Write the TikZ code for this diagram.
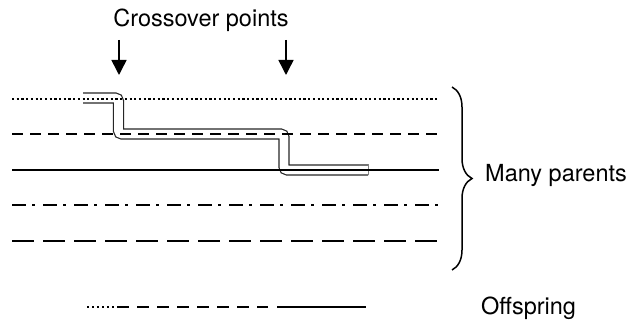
\documentclass[tikz,border=0pt]{standalone}
\usepackage{fontspec}
\setmainfont{TeX Gyre Heros}
\usetikzlibrary{calc, positioning}
\usetikzlibrary{arrows.meta}
\usetikzlibrary{decorations.pathreplacing}

\begin{document}
\begin{tikzpicture}[x=1pt, y=-1pt,
    font=\fontsize{23.5}{28}\selectfont,
    label/.style={inner sep=0pt},
    parent/.style={line width=2.7pt},
    pointer/.style={line width=1.5pt, -{Triangle[length=15pt, width=15pt]}},
    track/.style={line width=1.2pt, black!85, double=white, double distance=8.8pt, rounded corners=3.5pt}]
\useasboundingbox (0,0) rectangle (634,331);

\def\xL{12}
\def\xR{439}

\coordinate (P1) at (\xL,99);
\coordinate (P2) at (\xL,134);
\coordinate (P3) at (\xL,170);
\coordinate (P4) at (\xL,205);
\coordinate (P5) at (\xL,241);

\coordinate (X1) at (118.5,98);
\coordinate (X2) at (284,134);

% offspring track through the parents
\draw[track] (83,98) -- (X1) -- (X1 |- P2) -- (X2) -- (X2 |- P3) -- (368,170);
\draw[gray, line width=0.6pt] (368,164.5) -- (368,175.5);

% parent lines
\draw[parent, line width=2.4pt, dash pattern=on 2.2pt off 2.5pt] (P1) -- (\xR,99);
\draw[parent, line width=2.9pt, dash pattern=on 10.5pt off 7.5pt] (P2) -- (\xR,134);
\draw[parent] (P3) -- (\xR,170);
\draw[parent, dash pattern=on 14pt off 6pt on 2.5pt off 8.5pt] (P4) -- (\xR,205);
\draw[parent, line width=2.9pt, dash pattern=on 21.5pt off 9.5pt] (P5) -- (\xR,241);

% crossover points
\node[label, anchor=base] (cross) at (201,27) {Crossover points};
\coordinate (A1) at (119,40);
\coordinate (A2) at (286,40);
\draw[pointer] (A1) -- (119,75);
\draw[pointer] (A2) -- (286,75);

% brace round the parents
\coordinate (Btop) at (452,87);
\coordinate (Bbot) at (452,270);
\draw[line width=1.5pt, decorate, decoration={brace, amplitude=20pt}] (Btop) -- (Bbot);
\node[label, anchor=base west] (many) at (485,182) {Many parents};

% offspring
\coordinate (O1) at (87,307);
\coordinate (O2) at (117,307);
\coordinate (O3) at (268,307);
\coordinate (O4) at (277,307);
\draw[line width=2.4pt, dash pattern=on 2.2pt off 2.8pt] (O1) -- (O2);
\draw[line width=2.7pt, dash pattern=on 12pt off 8pt] (O2) -- (O3);
\draw[line width=2.7pt] (O4) -- (366,307);
\node[label, anchor=base west] (off) at (481,314) {Offspring};
\end{tikzpicture}
\end{document}
